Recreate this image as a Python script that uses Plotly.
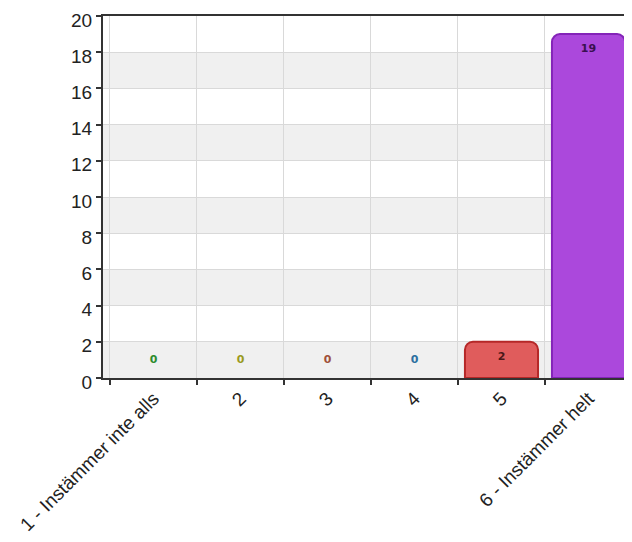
import plotly.graph_objects as go

categories = ["1 - Instämmer inte alls", "2", "3", "4", "5", "6 - Instämmer helt"]
values = [0, 0, 0, 0, 2, 19]
bar_colors = ["#3c9a3c", "#b0b030", "#b06040", "#3a78b0", "#e05c5c", "#ab48dc"]
bar_lines = ["#2a7a2a", "#909020", "#904030", "#2a5a90", "#b52828", "#8424b8"]
label_colors = ["#2e8b2e", "#9a9a1e", "#a0503a", "#2c6fa0", "#4a1818", "#3a1050"]
y_ticks = [0, 2, 4, 6, 8, 10, 12, 14, 16, 18, 20]

fig = go.Figure()

# bars (non-zero values carry their own inside label)
fig.add_trace(go.Bar(
    x=categories,
    y=values,
    marker=dict(color=bar_colors,
                line=dict(color=bar_lines, width=[2 if v > 0 else 0 for v in values]),
                cornerradius=8),
    text=[str(v) if v > 0 else "" for v in values],
    textposition="inside",
    insidetextanchor="end",
    textangle=0,
    textfont=dict(family="DejaVu Sans", size=11, color=label_colors, weight="bold"),
    hoverinfo="x+y",
))

# labels for zero-value categories
zero_cats = [c for c, v in zip(categories, values) if v == 0]
zero_cols = [col for col, v in zip(label_colors, values) if v == 0]
fig.add_trace(go.Scatter(
    x=zero_cats,
    y=[1] * len(zero_cats),
    mode="text",
    text=["0"] * len(zero_cats),
    textfont=dict(family="DejaVu Sans", size=11, color=zero_cols, weight="bold"),
    hoverinfo="skip",
))

# alternating horizontal bands
shapes = []
for i in range(0, len(y_ticks) - 1, 2):
    shapes.append(dict(type="rect", xref="paper", yref="y", x0=0, x1=1,
                       y0=y_ticks[i], y1=y_ticks[i + 1],
                       fillcolor="#f0f0f0", line=dict(width=0), layer="below"))

fig.update_layout(
    width=624, height=534,
    margin=dict(l=95, r=0, t=8, b=164),
    paper_bgcolor="white", plot_bgcolor="white",
    showlegend=False,
    bargap=0.16,
    shapes=shapes,
    font=dict(family="Liberation Sans, Arial, sans-serif", size=15, color="#222"),
    xaxis=dict(
        type="category",
        range=[-0.58, 5.5],
        automargin=False,
        tickson="boundaries",
        ticks="outside", ticklen=5, tickwidth=2, tickcolor="#333",
        showgrid=True, gridcolor="#d9d9d9", gridwidth=1,
        showline=True, linecolor="#333", linewidth=2, mirror=True,
        tickangle=-45,
        tickfont=dict(size=19, color="#222"),
        ticklabeloverflow="allow",
        layer="above traces",
    ),
    yaxis=dict(
        range=[0, 20],
        automargin=False,
        tickvals=y_ticks,
        ticks="outside", ticklen=5, tickwidth=2, tickcolor="#333",
        showgrid=True, gridcolor="#d9d9d9", gridwidth=1,
        showline=True, linecolor="#333", linewidth=2,
        zeroline=False,
        tickfont=dict(size=19, color="#222"),
        ticklabelshift=4,
        ticklabeloverflow="allow",
    ),
)

fig.write_html("out.html")
